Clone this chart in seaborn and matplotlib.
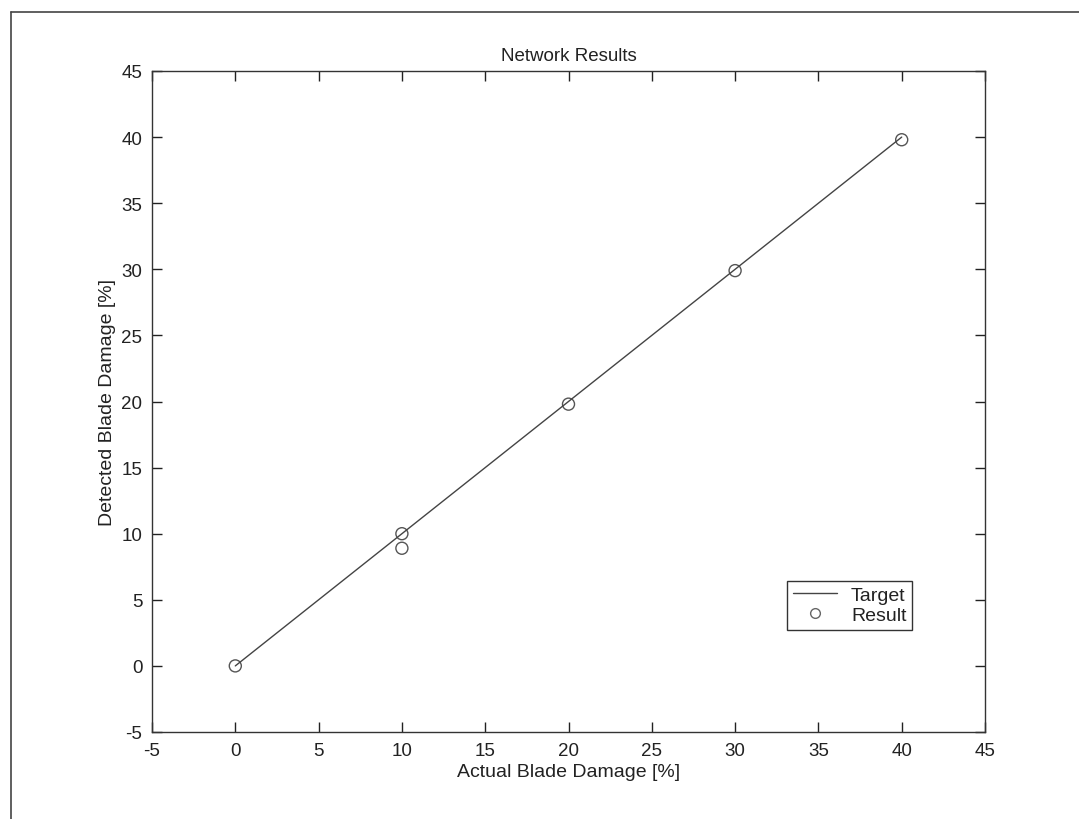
import matplotlib
matplotlib.use("Agg")
import matplotlib.pyplot as plt
import seaborn as sns
import pandas as pd
from matplotlib.lines import Line2D

# Data
target_x = [0, 10, 20, 30, 40]
target_y = [0, 10, 20, 30, 40]
result_x = [0, 10, 10, 20, 30, 40]
result_y = [0.0, 10.0, 8.9, 19.8, 29.9, 39.8]
ticks = [-5, 0, 5, 10, 15, 20, 25, 30, 35, 40, 45]

sns.set_style("ticks")
plt.rcParams['font.family'] = ['Liberation Sans', 'DejaVu Sans']
plt.rcParams['axes.unicode_minus'] = False
plt.rcParams['text.color'] = '#222222'
plt.rcParams['axes.labelcolor'] = '#222222'
plt.rcParams['xtick.color'] = '#222222'
plt.rcParams['ytick.color'] = '#222222'

fig = plt.figure(figsize=(10.79, 8.20), dpi=100)
ax = fig.add_axes([152/1079, 87/820, 833/1079, 661/820])

df_t = pd.DataFrame({"x": target_x, "y": target_y})
df_r = pd.DataFrame({"x": result_x, "y": result_y})

sns.lineplot(data=df_t, x="x", y="y", ax=ax, color="#444444", linewidth=1.0,
             label="Target", sort=False)
sns.scatterplot(data=df_r, x="x", y="y", ax=ax, marker="o", s=75,
                facecolors="none", edgecolor="#555555", linewidth=1.0,
                label="Result")

ax.set_xlim(-5, 45)
ax.set_ylim(-5, 45)
ax.set_xticks(ticks)
ax.set_yticks(ticks)
ax.tick_params(direction='in', top=True, right=True, length=7, width=1,
               labelsize=13.5, pad=7)
for s in ax.spines.values():
    s.set_linewidth(1.0)
    s.set_color('#333333')

ax.set_title("Network Results", fontsize=13.5, pad=8)
ax.set_xlabel("Actual Blade Damage [%]", fontsize=14, labelpad=3)
ax.set_ylabel("Detected Blade Damage [%]", fontsize=14, labelpad=4)

handles = [Line2D([0], [0], color="#444444", lw=1.0),
           Line2D([0], [0], marker='o', color='none', markerfacecolor='none',
                  markeredgecolor='#666666', markersize=7)]
leg = ax.legend(handles, ["Target", "Result"], loc='lower left',
                bbox_to_anchor=(0.762, 0.155), fontsize=14, fancybox=False,
                edgecolor='#333333', framealpha=1, handlelength=2.3,
                borderpad=0.3, labelspacing=0.1, handletextpad=0.7,
                borderaxespad=0.0)
leg.get_frame().set_linewidth(1.0)

# Page frame (top and left edges visible)
fig.add_artist(Line2D([11/1079, 1.0], [1 - 13/820, 1 - 13/820],
                      transform=fig.transFigure, color='#444444', lw=1.2))
fig.add_artist(Line2D([11/1079, 11/1079], [0.0, 1 - 13/820],
                      transform=fig.transFigure, color='#444444', lw=1.2))

fig.savefig("out.png", dpi=100)
